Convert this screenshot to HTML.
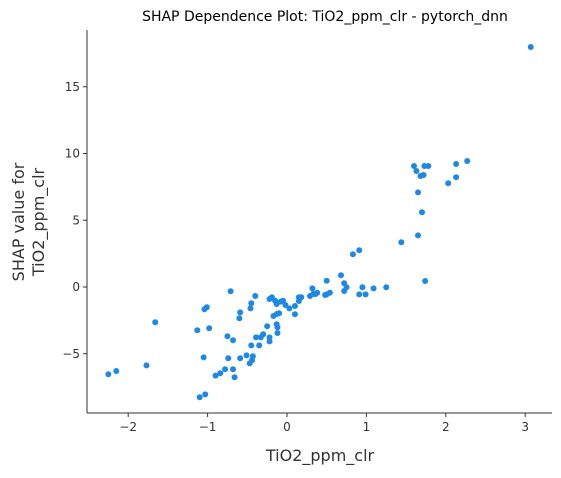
<!DOCTYPE html>
<html><head><meta charset="utf-8"><style>
body{margin:0;background:#fff;}
svg text{font-family:"DejaVu Sans","Liberation Sans",sans-serif;}
</style></head><body>
<svg id="chart" width="561" height="473" viewBox="0 0 561 473" xmlns="http://www.w3.org/2000/svg">
<text x="325" y="21" font-size="14" text-anchor="middle" fill="#000">SHAP Dependence Plot: TiO2_ppm_clr - pytorch_dnn</text>
<g id="axes"></g>
<g id="points"></g>
<text x="320" y="461" font-size="16" text-anchor="middle" fill="#333">TiO2_ppm_clr</text>
<text transform="translate(24,222) rotate(-90)" font-size="16" text-anchor="middle" fill="#333"><tspan x="0" y="0">SHAP value for</tspan><tspan x="0" y="20">TiO2_ppm_clr</tspan></text>
</svg>
<script>
const xValues=[-0.71,-0.40,-0.22,-0.19,-0.15,-0.13,-0.08,-0.05,-0.02,0.03,-0.45,-0.46,-1.01,-1.04,-0.59,-0.60,-0.17,-0.13,-0.10,0.10,0.10,0.15,0.18,0.15,0.29,0.32,0.36,-1.66,-1.13,-0.98,-0.25,-0.13,-0.12,-0.75,-0.68,-0.39,-0.33,-0.30,-0.22,-0.22,-0.12,-0.45,-0.35,-1.05,-0.74,-0.59,-0.51,-0.43,-0.44,-0.47,-1.77,-2.25,-2.15,-0.90,-0.84,-0.78,-0.68,-0.66,-1.10,-1.03,0.50,0.72,0.75,0.72,0.95,0.91,0.99,1.09,1.25,0.48,0.54,0.50,0.33,0.38,1.60,1.73,1.78,1.63,1.68,1.72,2.13,2.27,2.03,2.13,1.65,1.70,1.65,1.44,0.91,0.83,0.68,1.74,3.07];
const shapValues=[-0.32,-0.67,-0.90,-0.77,-1.03,-1.27,-1.10,-1.03,-1.35,-1.60,-1.22,-1.60,-1.52,-1.67,-1.90,-2.34,-2.17,-2.02,-1.97,-2.04,-1.42,-0.77,-0.77,-1.05,-0.67,-0.10,-0.52,-2.64,-3.24,-3.09,-2.94,-2.79,-3.02,-3.69,-3.99,-3.77,-3.77,-3.54,-3.77,-4.07,-3.45,-4.37,-4.37,-5.27,-5.34,-5.34,-5.12,-5.19,-5.49,-5.72,-5.87,-6.54,-6.29,-6.64,-6.46,-6.16,-6.16,-6.76,-8.26,-8.04,0.47,0.28,-0.02,-0.30,-0.02,-0.55,-0.55,-0.10,-0.02,-0.60,-0.43,-0.55,-0.52,-0.43,9.06,9.06,9.06,8.69,8.31,8.39,9.21,9.44,7.77,8.22,7.09,5.60,3.87,3.35,2.75,2.45,0.88,0.45,17.98];
const xTicks=[-2,-1,0,1,2,3];
const yTicks=[-5,0,5,10,15];
const NS='http://www.w3.org/2000/svg';
const L=87,R=552,T=30,B=413;
function sx(v){return 287+v*79.4;}
function sy(v){return 287-v*13.35;}
const axes=document.getElementById('axes');
function mk(tag,attrs,parent){const e=document.createElementNS(NS,tag);for(const k in attrs)e.setAttribute(k,attrs[k]);parent.appendChild(e);return e;}
const ls=mk('line',{x1:L,y1:T,x2:L,y2:B,stroke:'#333','stroke-width':1},axes);


const bs=mk('line',{x1:L,y1:B,x2:R,y2:B,stroke:'#333','stroke-width':1},axes);


xTicks.forEach(t=>{const x=sx(t);
 const tk=mk('line',{x1:x,y1:B,x2:x,y2:B+4,stroke:'#333'},axes);
 
 
 const tx=mk('text',{x:x,y:B+18,'font-size':12,'text-anchor':'middle',fill:'#333'},axes);
 tx.textContent=(t<0?'\u2212'+(-t):String(t));
 
 });
yTicks.forEach(t=>{const y=sy(t);
 const tk=mk('line',{x1:L-4,y1:y,x2:L,y2:y,stroke:'#333'},axes);
 
 
 const tx=mk('text',{x:L-7,y:y+4,'font-size':12,'text-anchor':'end',fill:'#333'},axes);
 tx.textContent=(t<0?'\u2212'+(-t):String(t));
 
 });
const pg=document.getElementById('points');
xValues.forEach((v,i)=>{const c=mk('circle',{cx:sx(v),cy:sy(shapValues[i]),r:3,fill:'#1E88E5'},pg);
 
 });
</script>
</body></html>
